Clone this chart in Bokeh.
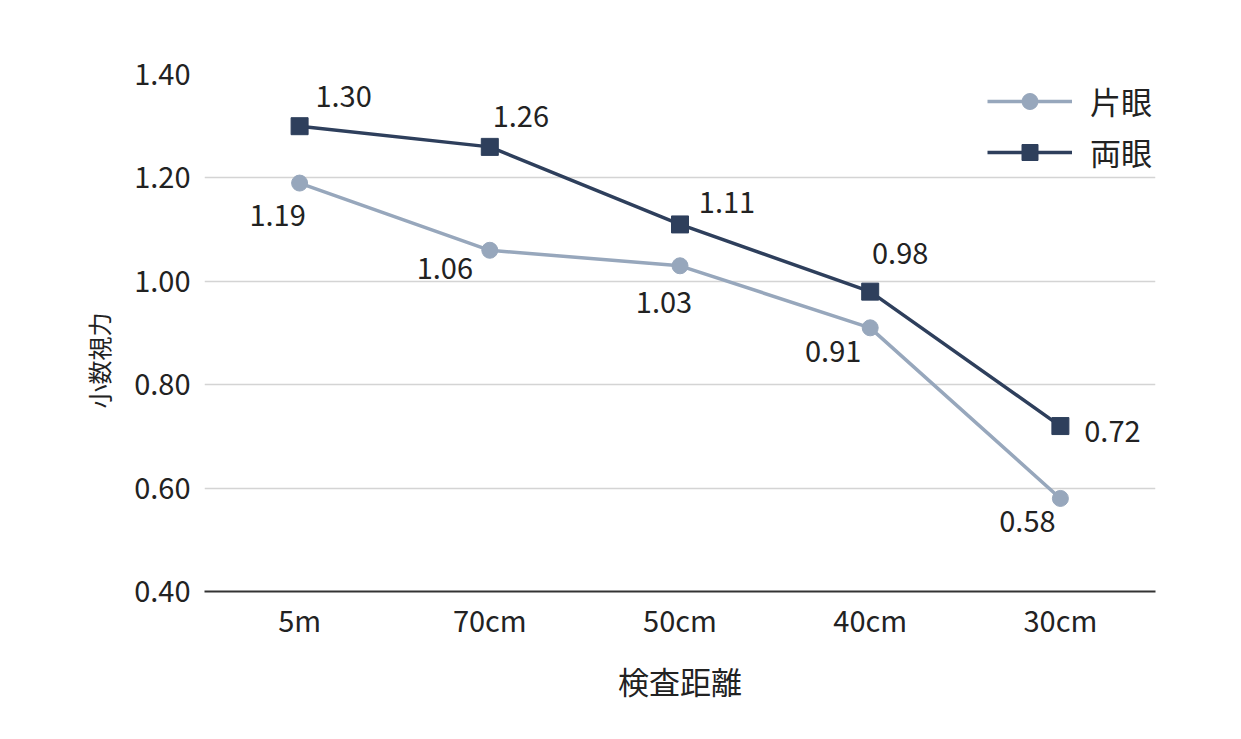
from bokeh.plotting import figure
from bokeh.models import (ColumnDataSource, FixedTicker, LabelSet, Legend, LegendItem,
                          Range1d, NumeralTickFormatter, Title)
from bokeh.core.properties import value
from bokeh.embed import file_html
from bokeh.resources import INLINE

categories = ["5m", "70cm", "50cm", "40cm", "30cm"]
one_eye = [1.19, 1.06, 1.03, 0.91, 0.58]
both_eyes = [1.30, 1.26, 1.11, 0.98, 0.72]
y_ticks = [0.40, 0.60, 0.80, 1.00, 1.20, 1.40]
series_names = ["片眼", "両眼"]
x_title = "検査距離"
y_title = "小数視力"

# label offsets (styling)
one_dx = [-22, -45, -16, -37, -33]
one_dy = [-32, -18, -37, -24, -23]
both_dx = [44, 31, 47, 30, 52]
both_dy = [30, 30, 22, 38, -5]

FONT = "Noto Sans CJK JP"
LIGHT = "#97a7bc"
DARK = "#2e3f5c"
W, H = 1241, 739

p = figure(width=W, height=H, x_range=categories, y_range=Range1d(0.4, 1.4),
           output_backend="svg", toolbar_location=None,
           min_border_left=204, min_border_right=86, min_border_top=74, min_border_bottom=148)
p.outline_line_color = None
p.background_fill_color = "white"
p.border_fill_color = "white"

src1 = ColumnDataSource(dict(x=categories, y=one_eye, t=[f"{v:.2f}" for v in one_eye], dx=one_dx, dy=one_dy))
src2 = ColumnDataSource(dict(x=categories, y=both_eyes, t=[f"{v:.2f}" for v in both_eyes], dx=both_dx, dy=both_dy))

p.ygrid.grid_line_color = "#d4d4d4"
p.ygrid.grid_line_width = 1.5
p.xgrid.grid_line_color = None

l1 = p.line("x", "y", source=src1, line_color=LIGHT, line_width=3.5)
m1 = p.scatter("x", "y", source=src1, marker="circle", size=16, fill_color=LIGHT, line_color=LIGHT)
l2 = p.line("x", "y", source=src2, line_color=DARK, line_width=3.5)
m2 = p.scatter("x", "y", source=src2, marker="square", size=17, fill_color=DARK, line_color=DARK)

for s in (src1, src2):
    p.add_layout(LabelSet(x="x", y="y", text="t", source=s, x_offset="dx", y_offset="dy",
                          text_align="center", text_baseline="middle",
                          text_font=value(FONT), text_font_size="29px", text_color="#222222"))

p.yaxis.ticker = FixedTicker(ticks=y_ticks)
p.yaxis.formatter = NumeralTickFormatter(format="0.00")
p.yaxis.axis_line_color = None
p.yaxis.major_tick_line_color = None
p.yaxis.minor_tick_line_color = None
p.yaxis.major_label_standoff = 8
p.yaxis.major_label_text_font = FONT
p.yaxis.major_label_text_font_size = "29px"
p.yaxis.major_label_text_color = "#222222"

# y-axis title as a side title, placed below the frame centre as in the reference
p.add_layout(Title(text=y_title, align="left", offset=183, standoff=31,
                   text_font=FONT, text_font_size="24px", text_font_style="normal",
                   text_color="#222222"), "left")

p.xaxis.axis_line_color = "#333333"
p.xaxis.axis_line_width = 2
p.xaxis.major_tick_line_color = None
p.xaxis.minor_tick_line_color = None
p.xaxis.major_label_standoff = 0
p.xaxis.major_label_text_font = FONT
p.xaxis.major_label_text_font_size = "29px"
p.xaxis.major_label_text_color = "#222222"
p.xaxis.axis_label = x_title
p.xaxis.axis_label_text_font = FONT
p.xaxis.axis_label_text_font_size = "31px"
p.xaxis.axis_label_text_font_style = "normal"
p.xaxis.axis_label_text_color = "#222222"
p.xaxis.axis_label_standoff = 15

legend = Legend(items=[LegendItem(label=series_names[0], renderers=[l1, m1]),
                       LegendItem(label=series_names[1], renderers=[l2, m2])],
                location=(783, 417), orientation="vertical",
                glyph_width=85, glyph_height=40, label_height=40, spacing=6,
                label_standoff=18, padding=0, margin=0,
                label_text_font=FONT, label_text_font_size="31px", label_text_color="#222222",
                border_line_color=None, background_fill_alpha=0)
p.add_layout(legend)

open("out.html", "w").write(file_html(p, INLINE))
